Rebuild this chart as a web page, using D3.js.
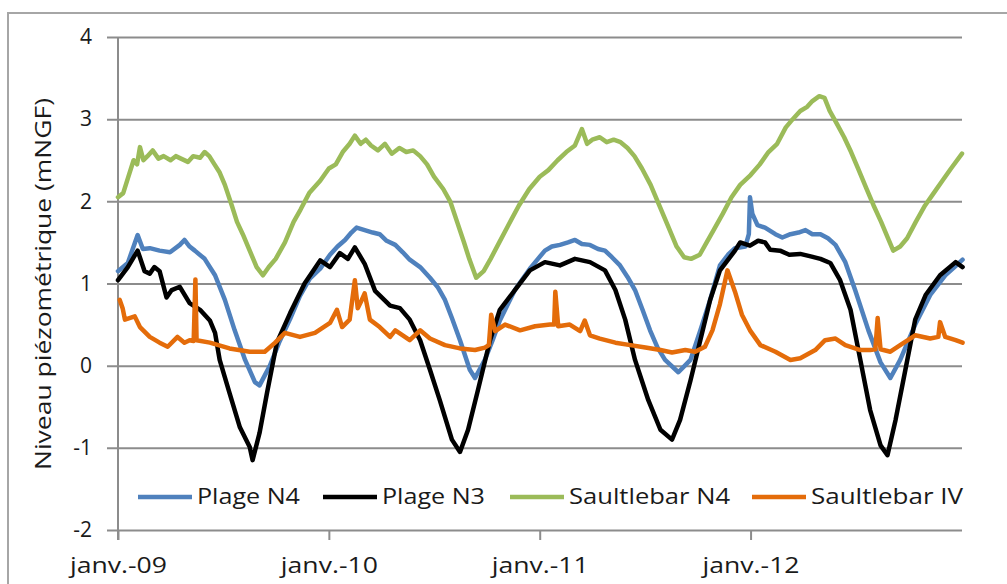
<!DOCTYPE html>
<html>
<head>
<meta charset="utf-8">
<script src="https://cdn.jsdelivr.net/npm/d3@7"></script>
<style>
  body { margin: 0; background: #fff; }
  svg text { font-family: "Open Sans", sans-serif; fill: #1a1a1a; }
</style>
</head>
<body>
<div id="chart"></div>
<script>
// Niveau piézométrique - 4 piezometers, Jan 2009 to Dec 2012
// x values are months since janv. 2009

const seriesNames = ["Plage N4", "Plage N3", "Saultlebar N4", "Saultlebar IV"];
const seriesColors = ["#4f81bd", "#000000", "#9bbb59", "#e46c0a"];

const yTicks = [-2, -1, 0, 1, 2, 3, 4];
const xTickYears = [2009, 2010, 2011, 2012];
const xTickLabels = ["janv.-09", "janv.-10", "janv.-11", "janv.-12"];

// Plage N4 (blue)
const plageN4Months = [0, 0.57, 1.14, 1.42, 1.82, 2.39, 2.96, 3.53, 3.81, 4.1, 4.38, 4.95, 5.52, 6.09, 6.66, 7.23, 7.8, 8.08, 8.65, 9.22, 9.79, 10.36, 10.93, 11.5, 12.07, 12.5, 12.92, 13.3, 13.6, 14.06, 14.5, 14.91, 15.3, 15.77, 16.2, 16.62, 17.2, 17.76, 18.2, 18.61, 19.0, 19.46, 20.03, 20.32, 20.89, 21.3, 21.74, 22.2, 22.6, 23.0, 23.45, 23.9, 24.3, 24.7, 25.16, 25.6, 26.0, 26.4, 26.86, 27.3, 27.72, 28.1, 28.57, 29.0, 29.42, 29.85, 30.28, 30.7, 31.13, 31.87, 32.56, 33.12, 33.69, 34.26, 34.7, 35.11, 35.68, 35.9, 35.97, 36.1, 36.37, 36.82, 37.39, 37.8, 38.25, 38.7, 39.1, 39.5, 39.95, 40.4, 40.81, 41.38, 41.95, 42.69, 43.37, 43.94, 44.51, 45.36, 46.21, 47.07, 47.6, 48.04];
const plageN4Values = [1.15, 1.25, 1.59, 1.42, 1.43, 1.4, 1.38, 1.47, 1.53, 1.45, 1.4, 1.3, 1.1, 0.8, 0.43, 0.07, -0.2, -0.24, 0.0, 0.3, 0.57, 0.85, 1.06, 1.18, 1.35, 1.45, 1.53, 1.62, 1.68, 1.65, 1.62, 1.6, 1.52, 1.47, 1.38, 1.29, 1.2, 1.07, 0.95, 0.8, 0.58, 0.31, -0.05, -0.15, 0.07, 0.3, 0.55, 0.75, 0.92, 1.05, 1.18, 1.3, 1.4, 1.45, 1.47, 1.5, 1.53, 1.48, 1.47, 1.42, 1.4, 1.32, 1.22, 1.08, 0.92, 0.68, 0.43, 0.22, 0.07, -0.08, 0.07, 0.43, 0.8, 1.22, 1.35, 1.43, 1.45, 1.6, 2.05, 1.85, 1.71, 1.68, 1.6, 1.56, 1.6, 1.62, 1.65, 1.6, 1.6, 1.55, 1.47, 1.26, 0.92, 0.43, 0.04, -0.15, 0.07, 0.5, 0.86, 1.1, 1.2, 1.29];

// Plage N3 (black)
const plageN3Months = [0, 0.57, 1.14, 1.54, 1.82, 2.1, 2.39, 2.79, 3.07, 3.53, 4.1, 4.67, 5.24, 5.52, 5.81, 6.37, 6.94, 7.51, 7.68, 8.08, 8.48, 9.05, 9.79, 10.64, 11.5, 12.07, 12.64, 13.1, 13.49, 14.06, 14.63, 15.48, 16.05, 16.62, 17.19, 17.76, 18.33, 19.01, 19.46, 19.92, 20.49, 21.17, 21.74, 22.6, 23.45, 24.3, 25.16, 26.0, 26.86, 27.72, 28.29, 28.86, 29.42, 30.16, 30.85, 31.53, 31.99, 32.56, 33.12, 33.69, 34.26, 35.11, 35.4, 35.97, 36.4, 36.82, 37.11, 37.68, 38.2, 38.82, 39.4, 39.95, 40.52, 41.09, 41.66, 42.23, 42.8, 43.37, 43.77, 44.22, 44.79, 45.36, 45.93, 46.78, 47.64, 48.04];
const plageN3Values = [1.04, 1.2, 1.4, 1.15, 1.12, 1.2, 1.15, 0.83, 0.92, 0.96, 0.76, 0.68, 0.55, 0.4, 0.07, -0.33, -0.75, -0.99, -1.15, -0.82, -0.33, 0.28, 0.64, 1.0, 1.28, 1.2, 1.37, 1.3, 1.44, 1.24, 0.91, 0.73, 0.7, 0.56, 0.31, -0.05, -0.42, -0.9, -1.05, -0.78, -0.3, 0.31, 0.68, 0.92, 1.16, 1.26, 1.22, 1.3, 1.26, 1.16, 0.92, 0.56, 0.07, -0.42, -0.78, -0.9, -0.66, -0.18, 0.31, 0.8, 1.16, 1.4, 1.5, 1.46, 1.52, 1.5, 1.41, 1.4, 1.35, 1.36, 1.33, 1.3, 1.25, 1.04, 0.68, 0.07, -0.54, -0.97, -1.09, -0.66, -0.05, 0.56, 0.86, 1.1, 1.26, 1.2];

// Saultlebar N4 (green)
const saultN4Months = [0, 0.3, 0.6, 0.9, 1.1, 1.25, 1.45, 1.7, 2.0, 2.3, 2.6, 3.0, 3.3, 3.6, 4.0, 4.3, 4.67, 4.95, 5.2, 5.5, 5.8, 6.1, 6.5, 6.8, 7.1, 7.5, 7.9, 8.25, 8.6, 9.0, 9.5, 10.0, 10.4, 10.9, 11.5, 12.0, 12.4, 12.8, 13.2, 13.5, 13.8, 14.1, 14.4, 14.8, 15.2, 15.6, 16.0, 16.4, 16.8, 17.2, 17.6, 18.0, 18.5, 18.9, 19.3, 19.7, 20.0, 20.4, 20.8, 21.2, 21.7, 22.2, 22.8, 23.4, 24.0, 24.5, 25.0, 25.5, 26.0, 26.4, 26.7, 27.0, 27.4, 27.8, 28.2, 28.6, 29.0, 29.4, 29.8, 30.3, 30.8, 31.3, 31.8, 32.2, 32.6, 33.1, 33.5, 33.9, 34.4, 34.9, 35.4, 36.0, 36.5, 37.0, 37.5, 38.0, 38.4, 38.8, 39.2, 39.5, 39.9, 40.2, 40.5, 40.9, 41.3, 41.7, 42.1, 42.6, 43.0, 43.4, 43.8, 44.1, 44.5, 44.9, 45.4, 45.9, 46.4, 46.9, 47.4, 48.0];
const saultN4Values = [2.05, 2.1, 2.3, 2.5, 2.45, 2.66, 2.5, 2.55, 2.62, 2.52, 2.55, 2.5, 2.55, 2.52, 2.48, 2.55, 2.53, 2.6, 2.55, 2.45, 2.35, 2.2, 1.95, 1.75, 1.6, 1.4, 1.2, 1.1, 1.2, 1.3, 1.5, 1.75, 1.9, 2.1, 2.25, 2.4, 2.45, 2.6, 2.7, 2.8, 2.7, 2.75, 2.68, 2.62, 2.7, 2.58, 2.65, 2.6, 2.62, 2.55, 2.45, 2.3, 2.15, 2.0, 1.75, 1.5, 1.3, 1.07, 1.15, 1.3, 1.5, 1.7, 1.95, 2.15, 2.3, 2.38, 2.5, 2.6, 2.68, 2.88, 2.7, 2.75, 2.78, 2.72, 2.75, 2.72, 2.65, 2.55, 2.4, 2.2, 1.95, 1.7, 1.45, 1.32, 1.3, 1.35, 1.5, 1.65, 1.85, 2.05, 2.2, 2.32, 2.45, 2.6, 2.7, 2.9, 3.0, 3.1, 3.15, 3.22, 3.28, 3.26, 3.1, 2.95, 2.78, 2.6, 2.4, 2.15, 1.95, 1.75, 1.55, 1.4, 1.45, 1.55, 1.75, 1.95, 2.1, 2.25, 2.4, 2.58];

// Saultlebar IV (orange)
const saultIVMonths = [0.1, 0.28, 0.4, 0.97, 1.25, 1.82, 2.39, 2.85, 3.41, 3.81, 4.1, 4.33, 4.41, 4.5, 5.24, 6.37, 7.51, 8.37, 8.94, 9.5, 10.36, 11.21, 12.07, 12.47, 12.75, 13.2, 13.49, 13.66, 13.89, 14.06, 14.34, 14.91, 15.48, 15.77, 16.62, 17.19, 17.76, 18.61, 19.46, 20.32, 20.89, 21.12, 21.23, 21.46, 22.03, 22.88, 23.73, 24.59, 24.82, 24.9, 25.04, 25.72, 26.29, 26.57, 26.86, 27.43, 28.29, 29.14, 30.0, 30.85, 31.53, 32.27, 32.84, 33.4, 33.81, 34.26, 34.66, 35.11, 35.51, 35.97, 36.54, 37.39, 38.25, 38.82, 39.67, 40.24, 40.81, 41.38, 42.23, 42.8, 43.08, 43.2, 43.37, 43.94, 44.51, 45.36, 46.21, 46.67, 46.78, 47.07, 47.64, 48.04];
const saultIVValues = [0.8, 0.7, 0.56, 0.6, 0.47, 0.35, 0.28, 0.23, 0.35, 0.28, 0.31, 0.3, 1.05, 0.31, 0.28, 0.21, 0.17, 0.17, 0.28, 0.4, 0.35, 0.4, 0.52, 0.68, 0.47, 0.56, 1.04, 0.7, 0.8, 0.88, 0.56, 0.47, 0.35, 0.43, 0.31, 0.43, 0.33, 0.25, 0.21, 0.19, 0.22, 0.25, 0.62, 0.42, 0.5, 0.43, 0.48, 0.5, 0.5, 0.9, 0.48, 0.5, 0.42, 0.55, 0.37, 0.33, 0.28, 0.25, 0.22, 0.19, 0.16, 0.19, 0.17, 0.23, 0.43, 0.75, 1.16, 0.9, 0.62, 0.43, 0.25, 0.17, 0.07, 0.09, 0.19, 0.31, 0.33, 0.25, 0.19, 0.19, 0.2, 0.58, 0.2, 0.17, 0.25, 0.37, 0.33, 0.35, 0.53, 0.35, 0.31, 0.28];

const seriesMonths = [plageN4Months, plageN3Months, saultN4Months, saultIVMonths];
const seriesValues = [plageN4Values, plageN3Values, saultN4Values, saultIVValues];

// Layout
const width = 1007;
const height = 584;
const margin = {left: 118, right: 45, top: 37, bottom: 54};

const svg = d3.select("#chart")
  .append("svg")
  .attr("width", width)
  .attr("height", height);

// outer chart border (cut by the picture edges)
svg.append("rect")
  .attr("x", 8)
  .attr("y", 13)
  .attr("width", 1100)
  .attr("height", 700)
  .attr("fill", "none")
  .attr("stroke", "#a6a6a6")
  .attr("stroke-width", 2);

const monthToDate = m => new Date(2009, 0, 1 + m * 30.44);

const xScale = d3.scaleTime()
  .domain([new Date(2009, 0, 1), new Date(2013, 0, 1)])
  .range([margin.left, width - margin.right]);

const yScale = d3.scaleLinear()
  .domain([-2, 4])
  .range([height - margin.bottom, margin.top]);

const plotW = width - margin.right - margin.left;

// y axis with horizontal gridlines
const yAxis = svg.append("g")
  .attr("transform", `translate(${margin.left},0)`)
  .call(d3.axisLeft(yScale)
    .tickValues(yTicks)
    .tickFormat(d => String(d))
    .tickSize(-plotW)
    .tickSizeOuter(0)
    .tickPadding(26));
yAxis.select(".domain").remove();
yAxis.selectAll(".tick line")
  .attr("x1", -11)
  .attr("stroke", "#8c8c8c")
  .attr("stroke-width", 2);
yAxis.selectAll(".tick text")
  .attr("font-size", 21)
  .attr("font-family", "Open Sans")
  .attr("fill", "#1a1a1a");

// vertical axis line
svg.append("line")
  .attr("x1", margin.left).attr("x2", margin.left)
  .attr("y1", margin.top).attr("y2", height - margin.bottom + 10)
  .attr("stroke", "#8c8c8c")
  .attr("stroke-width", 2);

// x axis ticks and labels
const xAxis = svg.append("g")
  .attr("transform", `translate(0,${height - margin.bottom})`)
  .call(d3.axisBottom(xScale)
    .tickValues(xTickYears.map(y => new Date(y, 0, 1)))
    .tickFormat((d, i) => xTickLabels[i])
    .tickSize(10)
    .tickPadding(18));
xAxis.select(".domain").remove();
xAxis.selectAll(".tick line")
  .attr("stroke", "#8c8c8c")
  .attr("stroke-width", 2);
xAxis.selectAll(".tick text")
  .attr("font-size", 21)
  .attr("font-family", "Open Sans")
  .attr("fill", "#1a1a1a")
  .attr("textLength", 97)
  .attr("lengthAdjust", "spacingAndGlyphs");

// y axis title
svg.append("text")
  .attr("transform", "translate(51,284) rotate(-90)")
  .attr("text-anchor", "middle")
  .attr("font-size", 21)
  .attr("textLength", 372)
  .attr("lengthAdjust", "spacingAndGlyphs")
  .text("Niveau piézométrique (mNGF)");

// lines
const line = d3.line()
  .x(d => xScale(monthToDate(d[0])))
  .y(d => yScale(d[1]))
  .curve(d3.curveLinear);

// draw order: green, blue, black, orange (orange on top)
const order = [2, 0, 1, 3];
order.forEach(i => {
  const pts = seriesMonths[i].map((m, j) => [m, seriesValues[i][j]]);
  svg.append("path")
    .datum(pts)
    .attr("fill", "none")
    .attr("stroke", seriesColors[i])
    .attr("stroke-width", 4.5)
    .attr("stroke-linejoin", "round")
    .attr("stroke-linecap", "round")
    .attr("d", line);
});

// legend
const legendX = [138, 323, 510, 752];
const legendLen = [103, 103, 161, 152];
const legendY = 497;
const legend = svg.append("g");
seriesNames.forEach((name, i) => {
  legend.append("line")
    .attr("x1", legendX[i]).attr("x2", legendX[i] + 54)
    .attr("y1", legendY).attr("y2", legendY)
    .attr("stroke", seriesColors[i])
    .attr("stroke-width", 4.5);
  legend.append("text")
    .attr("x", legendX[i] + 59)
    .attr("y", legendY + 7)
    .attr("font-size", 21)
    .attr("textLength", legendLen[i])
    .attr("lengthAdjust", "spacingAndGlyphs")
    .text(name);
});
</script>
</body>
</html>
